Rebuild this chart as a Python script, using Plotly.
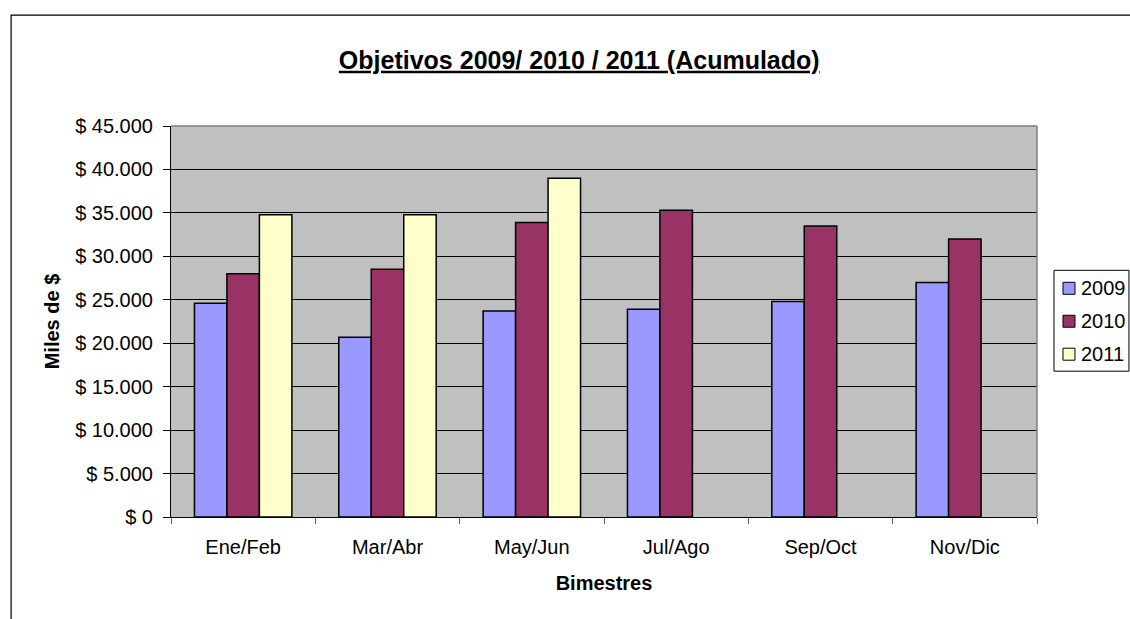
import plotly.graph_objects as go

categories = ["Ene/Feb", "Mar/Abr", "May/Jun", "Jul/Ago", "Sep/Oct", "Nov/Dic"]
series_names = ["2009", "2010", "2011"]
values_2009 = [24600, 20700, 23700, 23900, 24800, 27000]
values_2010 = [28000, 28500, 33900, 35300, 33500, 32000]
values_2011 = [34800, 34800, 39000, None, None, None]
colors = ["#9999FF", "#993366", "#FFFFCC"]
tick_vals = [0, 5000, 10000, 15000, 20000, 25000, 30000, 35000, 40000, 45000]
tick_text = ["$ 0", "$ 5.000", "$ 10.000", "$ 15.000", "$ 20.000", "$ 25.000",
             "$ 30.000", "$ 35.000", "$ 40.000", "$ 45.000"]

FONT = "Liberation Sans, Arial, sans-serif"
FS = 20
W, H = 1130, 619
L, R, T, B = 170.5, 93, 125.5, 102
pw, ph = W - L - R, H - T - B


def px_x(px):
    return (px - L) / pw


def px_y(py):
    return (H - B - py) / ph


fig = go.Figure()
for name, vals, col in zip(series_names, [values_2009, values_2010, values_2011], colors):
    fig.add_trace(go.Bar(
        x=categories, y=vals, name=name, showlegend=False,
        marker=dict(color=col, line=dict(color="#000000", width=1.5)),
    ))

fig.update_layout(
    width=W, height=H,
    margin=dict(l=L, r=R, t=T, b=B, pad=0),
    paper_bgcolor="white",
    plot_bgcolor="#C0C0C0",
    barmode="group",
    bargap=0.325,
    bargroupgap=0,
    font=dict(family=FONT, size=FS, color="black"),
    title=dict(
        text="<b><u>Objetivos 2009/ 2010 / 2011 (Acumulado)</u></b>",
        font=dict(family=FONT, size=25, color="black"),
        x=px_x(579), xref="paper", xanchor="center",
        y=1 - 60 / H, yref="container", yanchor="middle",
    ),
    xaxis=dict(
        showgrid=False,
        showline=True, linecolor="#000000", linewidth=1,
        ticks="outside", tickson="boundaries", ticklen=6, tickcolor="#606060",
        ticklabelstandoff=12,
        tickfont=dict(family=FONT, size=FS, color="black"),
        title=dict(text="<b>Bimestres</b>", font=dict(family=FONT, size=FS, color="black"), standoff=18),
        fixedrange=True,
    ),
    yaxis=dict(
        range=[0, 45000],
        tickvals=tick_vals, ticktext=tick_text,
        showgrid=True, gridcolor="#000000", gridwidth=1,
        showline=True, linecolor="#000000", linewidth=1,
        ticks="outside", ticklen=7, tickcolor="#000000",
        ticklabelstandoff=6,
        tickfont=dict(family=FONT, size=FS, color="black"),
        title=dict(text="<b>Miles de $</b>", font=dict(family=FONT, size=FS, color="black"), standoff=10),
        zeroline=False,
        fixedrange=True,
    ),
    showlegend=False,
)

# plot-area border (top / right gray)
fig.add_shape(type="line", xref="paper", yref="paper", x0=0, x1=1, y0=1, y1=1,
              line=dict(color="#808080", width=1.5), layer="above")
fig.add_shape(type="line", xref="paper", yref="paper", x0=1, x1=1, y0=0, y1=1,
              line=dict(color="#808080", width=1.5), layer="above")

# outer chart border
fig.add_shape(type="rect", xref="paper", yref="paper",
              x0=px_x(10.5), x1=px_x(1200), y0=px_y(700), y1=px_y(14.5),
              line=dict(color="#000000", width=1.2), fillcolor="rgba(0,0,0,0)", layer="below")

# legend drawn as a framed box
leg_left, leg_right, leg_top, leg_bottom = 1054, 1129, 270, 371
fig.add_shape(type="rect", xref="paper", yref="paper",
              x0=px_x(leg_left), x1=px_x(leg_right), y0=px_y(leg_bottom), y1=px_y(leg_top),
              line=dict(color="#000000", width=1), fillcolor="white", layer="above")
item_centers = [288, 321, 354]
for name, col, cy in zip(series_names, colors, item_centers):
    fig.add_shape(type="rect", xref="paper", yref="paper",
                  x0=px_x(1063), x1=px_x(1075), y0=px_y(cy + 6), y1=px_y(cy - 6),
                  line=dict(color="#000000", width=1), fillcolor=col, layer="above")
    fig.add_annotation(xref="paper", yref="paper", x=px_x(1079), y=px_y(cy),
                       xanchor="left", yanchor="middle", showarrow=False,
                       text=name, font=dict(family=FONT, size=FS, color="black"))

fig.write_html("out.html")
